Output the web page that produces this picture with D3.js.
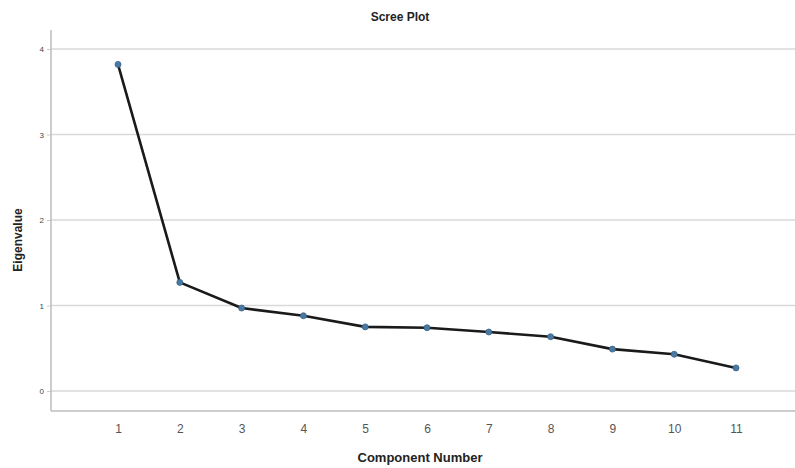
<!DOCTYPE html>
<html><head><meta charset="utf-8">
<script src="https://cdn.jsdelivr.net/npm/d3@7"></script>
<style>body{margin:0;background:#fff}svg{display:block}</style>
</head><body>
<div id="chart"></div>
<script>
const components = [1,2,3,4,5,6,7,8,9,10,11];
const eigenvalues = [3.82,1.27,0.97,0.88,0.75,0.74,0.69,0.635,0.49,0.43,0.27];
const yTicks = [0,1,2,3,4];
const title = "Scree Plot";
const xTitle = "Component Number";
const yTitle = "Eigenvalue";

(function(){
const W = 795, H = 468;
const svg = d3.select("#chart").append("svg").attr("width", W).attr("height", H);
const pLeft = 51, pRight = 795, pTop = 30, pBottom = 411;
const x = d3.scaleLinear().domain([1, 11]).range([118, 736]);
const y = d3.scaleLinear().domain([0, 4]).range([391, 49]);

// gridlines
svg.append("g").selectAll("line").data(yTicks).join("line")
  .attr("x1", pLeft).attr("x2", pRight)
  .attr("y1", d => y(d)).attr("y2", d => y(d))
  .attr("stroke", "#d9d9d9").attr("stroke-width", 1.5);

// axes
const yAxis = d3.axisLeft(y).tickValues(yTicks).tickFormat(d3.format("d")).tickSize(4).tickPadding(3);
const gy = svg.append("g").attr("transform", `translate(${pLeft},0)`).call(yAxis);
gy.select(".domain").remove();
gy.selectAll(".tick line").attr("stroke", "#ccc");
gy.selectAll(".tick text").attr("font-family", "Arial, Liberation Sans, sans-serif")
  .attr("font-size", 8).attr("fill", "#444");
svg.append("line").attr("x1", pLeft).attr("x2", pLeft).attr("y1", pTop).attr("y2", pBottom)
  .attr("stroke", "#bdbdbd").attr("stroke-width", 1.5);

const xAxis = d3.axisBottom(x).tickValues(components).tickFormat(d3.format("d")).tickSize(0).tickPadding(13);
const gx = svg.append("g").attr("transform", `translate(0,${pBottom})`).call(xAxis);
gx.select(".domain").remove();
gx.selectAll(".tick text").attr("font-family", "Arial, Liberation Sans, sans-serif")
  .attr("font-size", 12).attr("fill", "#555");
svg.append("line").attr("x1", pLeft).attr("x2", pRight).attr("y1", pBottom).attr("y2", pBottom)
  .attr("stroke", "#bdbdbd").attr("stroke-width", 1.5);

// line
const data = components.map((c, i) => ({c, v: eigenvalues[i]}));
svg.append("path").datum(data)
  .attr("d", d3.line().x(d => x(d.c)).y(d => y(d.v)))
  .attr("fill", "none").attr("stroke", "#1a1a1a").attr("stroke-width", 2.6)
  .attr("stroke-linejoin", "round");
svg.append("g").selectAll("circle").data(data).join("circle")
  .attr("cx", d => x(d.c)).attr("cy", d => y(d.v)).attr("r", 3)
  .attr("fill", "#4a7aa3").attr("stroke", "#3a6488").attr("stroke-width", 0.8);

// titles
svg.append("text").attr("x", 400).attr("y", 21).attr("text-anchor", "middle")
  .attr("font-family", "Arial, Liberation Sans, sans-serif").attr("font-weight", "bold")
  .attr("font-size", 12).attr("fill", "#222").text(title);
svg.append("text").attr("x", 420).attr("y", 462).attr("text-anchor", "middle")
  .attr("font-family", "Arial, Liberation Sans, sans-serif").attr("font-weight", "bold")
  .attr("font-size", 13).attr("fill", "#222").text(xTitle);
svg.append("text").attr("transform", "translate(22,240) rotate(-90)").attr("text-anchor", "middle")
  .attr("font-family", "Arial, Liberation Sans, sans-serif").attr("font-weight", "bold")
  .attr("font-size", 12).attr("fill", "#222").text(yTitle);
})();
</script>
</body></html>
